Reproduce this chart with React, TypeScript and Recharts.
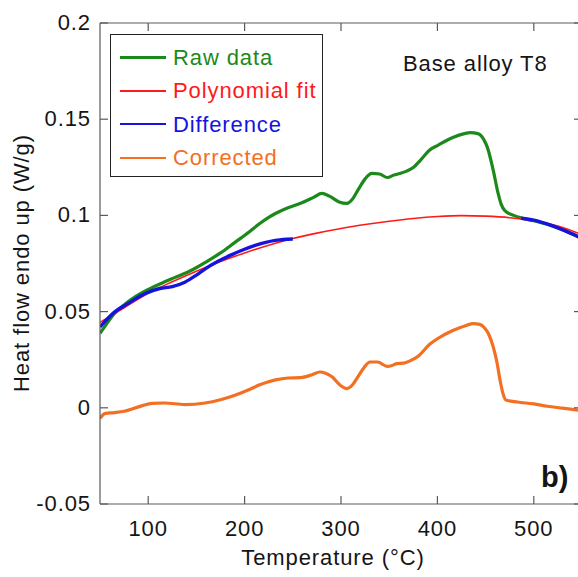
import { LineChart, Line, XAxis, YAxis } from "recharts";

const FONT = '"Liberation Sans", Arial, Helvetica, sans-serif';
const AXIS = "#5a5a5a";
const INK = "#151515";

const GREEN = "#1b8a1b";
const RED = "#ff1a1a";
const BLUE = "#1414dc";
const ORANGE = "#f36f21";

const xTicks = [100, 200, 300, 400, 500];
const yTicks = [-0.05, 0, 0.05, 0.1, 0.15, 0.2];

// raw DSC trace
const rawTemp = [50, 56, 65, 75, 86, 100, 115, 128, 145, 159, 175, 190, 205, 215, 225, 232, 245, 260, 272, 280, 288, 298, 306, 312, 318, 325, 332, 340, 348, 355, 361, 368, 375, 383, 392, 400, 416, 428, 434, 442, 448, 452, 458, 463, 466, 470, 479, 489, 500, 525, 550];
const rawFlow = [0.0387, 0.043, 0.049, 0.0535, 0.0575, 0.0615, 0.065, 0.0678, 0.0715, 0.0755, 0.0805, 0.086, 0.0915, 0.0955, 0.099, 0.101, 0.104, 0.1067, 0.1095, 0.1114, 0.11, 0.107, 0.1062, 0.1085, 0.1135, 0.119, 0.1218, 0.1215, 0.1197, 0.121, 0.1218, 0.123, 0.1249, 0.129, 0.134, 0.1363, 0.1405, 0.1425, 0.143, 0.1425, 0.1395, 0.1351, 0.1233, 0.1114, 0.106, 0.1025, 0.1, 0.0984, 0.0972, 0.0935, 0.088];

// baseline fit
const fitTemp = [50, 75, 100, 125, 150, 175, 200, 225, 250, 275, 300, 325, 350, 375, 400, 425, 450, 475, 500, 525, 550];
const fitFlow = [0.0444, 0.052, 0.0595, 0.0655, 0.071, 0.076, 0.0805, 0.0845, 0.088, 0.0908, 0.0932, 0.0953, 0.097, 0.0984, 0.0994, 0.0999, 0.0996, 0.0988, 0.0972, 0.0945, 0.09];

// fitted regions (gap in the middle)
const diffTemp = [50, 65, 80, 97, 112, 125, 138, 150, 160, 172, 185, 198, 211, 222, 232, 240, 250, 370, 487, 500, 512, 525, 538, 550];
const diffFlow = [0.042, 0.0497, 0.0545, 0.0594, 0.062, 0.063, 0.0653, 0.069, 0.0725, 0.076, 0.0792, 0.082, 0.0844, 0.086, 0.087, 0.0875, 0.0877, null, 0.0985, 0.0975, 0.0958, 0.0935, 0.0908, 0.088];

const corrTemp = [50, 55, 65, 75, 90, 104, 117, 138, 159, 175, 190, 205, 215, 232, 245, 258, 270, 278, 284, 291, 299, 306, 312, 318, 324, 330, 338, 348, 353, 358, 365, 372, 380, 392, 400, 416, 430, 437, 444, 449, 453, 458, 462, 465, 468, 471, 483, 500, 514, 530, 550];
const corrFlow = [-0.0055, -0.003, -0.0025, -0.0018, 0.0005, 0.0023, 0.0025, 0.0017, 0.0025, 0.0042, 0.0065, 0.0095, 0.0118, 0.0145, 0.0155, 0.0157, 0.0172, 0.0186, 0.018, 0.016, 0.0118, 0.01, 0.012, 0.0165, 0.021, 0.0238, 0.0238, 0.0215, 0.022, 0.023, 0.0232, 0.0245, 0.0268, 0.033, 0.0359, 0.0402, 0.0428, 0.0437, 0.0434, 0.0415, 0.0385, 0.0315, 0.023, 0.0143, 0.0075, 0.004, 0.003, 0.002, 0.0008, -0.0002, -0.0015];

const zip = (ts: number[], vs: (number | null)[]) => ts.map((t, i) => ({ t, v: vs[i] }));

const legendItems = [
  { name: "Raw data", color: GREEN, w: 2.2 },
  { name: "Polynomial fit", color: RED, w: 1.3 },
  { name: "Difference", color: BLUE, w: 2.2 },
  { name: "Corrected", color: ORANGE, w: 2.2 },
];

const txt = { fontSize: 22, letterSpacing: 0.9, fontFamily: FONT };

function BottomTick({ x, y, payload }: any) {
  return (
    <g>
      <line x1={x} y1={y} x2={x} y2={y - 8} stroke={AXIS} strokeWidth={1.2} />
      <text x={x} y={y + 32} textAnchor="middle" fill={INK} {...txt}>
        {payload.value}
      </text>
    </g>
  );
}

function TopTick({ x, y }: any) {
  return <line x1={x} y1={y} x2={x} y2={y + 8} stroke={AXIS} strokeWidth={1.2} />;
}

function LeftTick({ x, y, payload }: any) {
  return (
    <g>
      <line x1={x} y1={y} x2={x + 8} y2={y} stroke={AXIS} strokeWidth={1.2} />
      <text x={x - 9} y={y + 7} textAnchor="end" fill={INK} {...txt}>
        {String(payload.value)}
      </text>
    </g>
  );
}

function RightTick({ x, y }: any) {
  return <line x1={x} y1={y} x2={x - 8} y2={y} stroke={AXIS} strokeWidth={1.2} />;
}

export default function App() {
  return (
    <div
      style={{
        position: "fixed",
        left: 0,
        top: 0,
        width: 578,
        height: 577,
        overflow: "hidden",
        background: "#fff",
        fontFamily: FONT,
      }}
    >
      <LineChart width={600} height={577} margin={{ top: 0, right: 0, bottom: 0, left: 0 }}>
        <XAxis
          xAxisId="b"
          type="number"
          dataKey="t"
          domain={[50, 550]}
          ticks={xTicks}
          interval={0}
          allowDataOverflow
          height={73}
          tickSize={0}
          tickMargin={0}
          tick={BottomTick}
          stroke={AXIS}
          strokeWidth={1.2}
        />
        <XAxis
          xAxisId="t"
          orientation="top"
          type="number"
          dataKey="t"
          domain={[50, 550]}
          ticks={xTicks}
          interval={0}
          allowDataOverflow
          height={23}
          tickSize={0}
          tickMargin={0}
          tick={TopTick}
          stroke={AXIS}
          strokeWidth={1.2}
        />
        <YAxis
          yAxisId="l"
          type="number"
          domain={[-0.05, 0.2]}
          ticks={yTicks}
          interval={0}
          allowDataOverflow
          width={100}
          tickSize={0}
          tickMargin={0}
          tick={LeftTick}
          stroke={AXIS}
          strokeWidth={1.2}
        />
        <YAxis
          yAxisId="r"
          orientation="right"
          type="number"
          domain={[-0.05, 0.2]}
          ticks={yTicks}
          interval={0}
          allowDataOverflow
          width={18}
          tickSize={0}
          tickMargin={0}
          tick={RightTick}
          stroke={AXIS}
          strokeWidth={1.2}
        />
        <Line xAxisId="b" yAxisId="l" data={zip(rawTemp, rawFlow)} dataKey="v" type="monotone" stroke={GREEN} strokeWidth={3.2} dot={false} activeDot={false} isAnimationActive={false} />
        <Line xAxisId="b" yAxisId="l" data={zip(fitTemp, fitFlow)} dataKey="v" type="monotone" stroke={RED} strokeWidth={1.6} dot={false} activeDot={false} isAnimationActive={false} />
        <Line xAxisId="b" yAxisId="l" data={zip(diffTemp, diffFlow)} dataKey="v" type="monotone" stroke={BLUE} strokeWidth={3.4} dot={false} activeDot={false} isAnimationActive={false} />
        <Line xAxisId="b" yAxisId="l" data={zip(corrTemp, corrFlow)} dataKey="v" type="monotone" stroke={ORANGE} strokeWidth={3.2} dot={false} activeDot={false} isAnimationActive={false} />
      </LineChart>

      {/* legend box */}
      <div
        style={{
          position: "absolute",
          left: 110,
          top: 34,
          width: 213,
          height: 143,
          border: "1.3px solid #222",
          boxSizing: "border-box",
          background: "#fff",
        }}
      >
        {legendItems.map((it, i) => {
          const cy = 22.5 + i * 33.4;
          return (
            <div key={it.name}>
              <div
                style={{
                  position: "absolute",
                  left: 9,
                  top: cy - it.w / 2,
                  width: 46,
                  height: it.w,
                  background: it.color,
                }}
              />
              <div
                style={{
                  position: "absolute",
                  left: 62,
                  top: cy - 10.7,
                  fontSize: 22,
                  lineHeight: "22px",
                  letterSpacing: 0.9,
                  whiteSpace: "nowrap",
                  color: it.color,
                }}
              >
                {it.name}
              </div>
            </div>
          );
        })}
      </div>

      <div style={{ position: "absolute", left: 403, top: 53, fontSize: 22, lineHeight: "22px", letterSpacing: 0.9, color: INK, whiteSpace: "nowrap" }}>
        Base alloy T8
      </div>

      <div style={{ position: "absolute", left: 541, top: 463, fontSize: 29, lineHeight: "29px", fontWeight: 700, color: INK, whiteSpace: "nowrap" }}>
        b)
      </div>

      <div
        style={{
          position: "absolute",
          left: 333,
          top: 547,
          transform: "translateX(-50%)",
          fontSize: 22,
          lineHeight: "22px",
          letterSpacing: 0.9,
          color: INK,
          whiteSpace: "nowrap",
        }}
      >
        Temperature (°C)
      </div>

      <div
        style={{
          position: "absolute",
          left: 22,
          top: 263,
          transform: "translate(-50%, -50%) rotate(-90deg)",
          fontSize: 22,
          lineHeight: "22px",
          letterSpacing: 0.9,
          color: INK,
          whiteSpace: "nowrap",
        }}
      >
        Heat flow endo up (W/g)
      </div>
    </div>
  );
}
